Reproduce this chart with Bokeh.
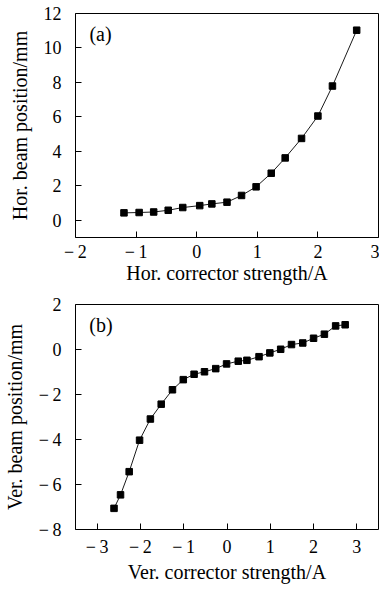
from bokeh.plotting import figure
from bokeh.layouts import column
from bokeh.models import Label, FixedTicker
from bokeh.embed import file_html
from bokeh.resources import INLINE

# (a) horizontal corrector scan
hor_current = [-1.20, -0.95, -0.71, -0.47, -0.23, 0.05, 0.25, 0.50, 0.74, 0.98,
               1.23, 1.46, 1.73, 2.00, 2.24, 2.64]
hor_position = [0.43, 0.45, 0.48, 0.58, 0.74, 0.85, 0.95, 1.05, 1.44, 1.94,
                2.73, 3.62, 4.75, 6.05, 7.79, 11.03]

# (b) vertical corrector scan
ver_current = [-2.61, -2.46, -2.26, -2.02, -1.77, -1.52, -1.26, -1.01, -0.76,
               -0.52, -0.26, -0.01, 0.26, 0.46, 0.74, 0.99, 1.24, 1.49, 1.75,
               2.00, 2.25, 2.51, 2.73]
ver_position = [-7.06, -6.46, -5.43, -4.03, -3.09, -2.43, -1.79, -1.34, -1.10,
                -0.99, -0.85, -0.64, -0.52, -0.48, -0.32, -0.15, 0.01, 0.22,
                0.29, 0.50, 0.68, 1.05, 1.10]

hor_x_ticks = [-2, -1, 0, 1, 2, 3]
hor_y_ticks = [0, 2, 4, 6, 8, 10, 12]
ver_x_ticks = [-3, -2, -1, 0, 1, 2, 3]
ver_y_ticks = [-8, -6, -4, -2, 0, 2]

FONT = "Liberation Serif"


def tick_text(v):
    return ("\u2212\u2009" + str(-v)) if v < 0 else str(v)


def make_panel(xs, ys, xr, yr, xticks, yticks, xlabel, ylabel, tag, tag_xy,
               height, top, bottom, x_std, x_lab_std):
    p = figure(width=379, height=height, x_range=xr, y_range=yr,
               output_backend="svg", toolbar_location=None,
               min_border_left=74, min_border_right=1,
               min_border_top=top, min_border_bottom=bottom)
    p.background_fill_color = "white"
    p.border_fill_color = "white"
    p.outline_line_color = "black"
    p.outline_line_width = 1
    p.grid.visible = False

    p.xaxis.ticker = FixedTicker(ticks=xticks)
    p.yaxis.ticker = FixedTicker(ticks=yticks)
    p.xaxis.major_label_overrides = {t: tick_text(t) for t in xticks}
    p.yaxis.major_label_overrides = {t: tick_text(t) for t in yticks}

    for ax in (p.xaxis[0], p.yaxis[0]):
        ax.axis_line_color = None
        ax.major_tick_in = 6
        ax.major_tick_out = 0
        ax.minor_tick_line_color = None
        ax.major_tick_line_color = "black"
        ax.major_label_text_font = FONT
        ax.major_label_text_font_size = "18px"
        ax.major_label_text_color = "black"
        ax.axis_label_text_font = FONT
        ax.axis_label_text_font_size = "20px"
        ax.axis_label_text_font_style = "normal"
        ax.axis_label_text_color = "black"
    p.xaxis.axis_label = xlabel
    p.yaxis.axis_label = ylabel
    p.xaxis.major_label_standoff = x_std
    p.xaxis.axis_label_standoff = x_lab_std
    p.yaxis.major_label_standoff = 14
    p.yaxis.axis_label_standoff = 10

    p.line(xs, ys, line_color="black", line_width=0.9)
    p.scatter(xs, ys, marker="square", size=6.5, fill_color="black",
              line_color="black")

    p.add_layout(Label(x=tag_xy[0], y=tag_xy[1], text=tag,
                       text_font=FONT, text_font_size="20px",
                       text_baseline="middle", text_color="black"))
    return p


pa = make_panel(hor_current, hor_position, (-2, 3), (-1, 12),
                hor_x_ticks, hor_y_ticks,
                "Hor. corrector strength/A", "Hor. beam position/mm",
                "(a)", (-1.77, 10.8), 290, 13, 53, 4, -3)
pb = make_panel(ver_current, ver_position, (-3.5, 3.5), (-8, 2),
                ver_x_ticks, ver_y_ticks,
                "Ver. corrector strength/A", "Ver. beam position/mm",
                "(b)", (-3.18, 1.07), 299, 14, 60, 7, 1)

layout = column(pa, pb, spacing=0)
open("out.html", "w").write(file_html(layout, INLINE))
